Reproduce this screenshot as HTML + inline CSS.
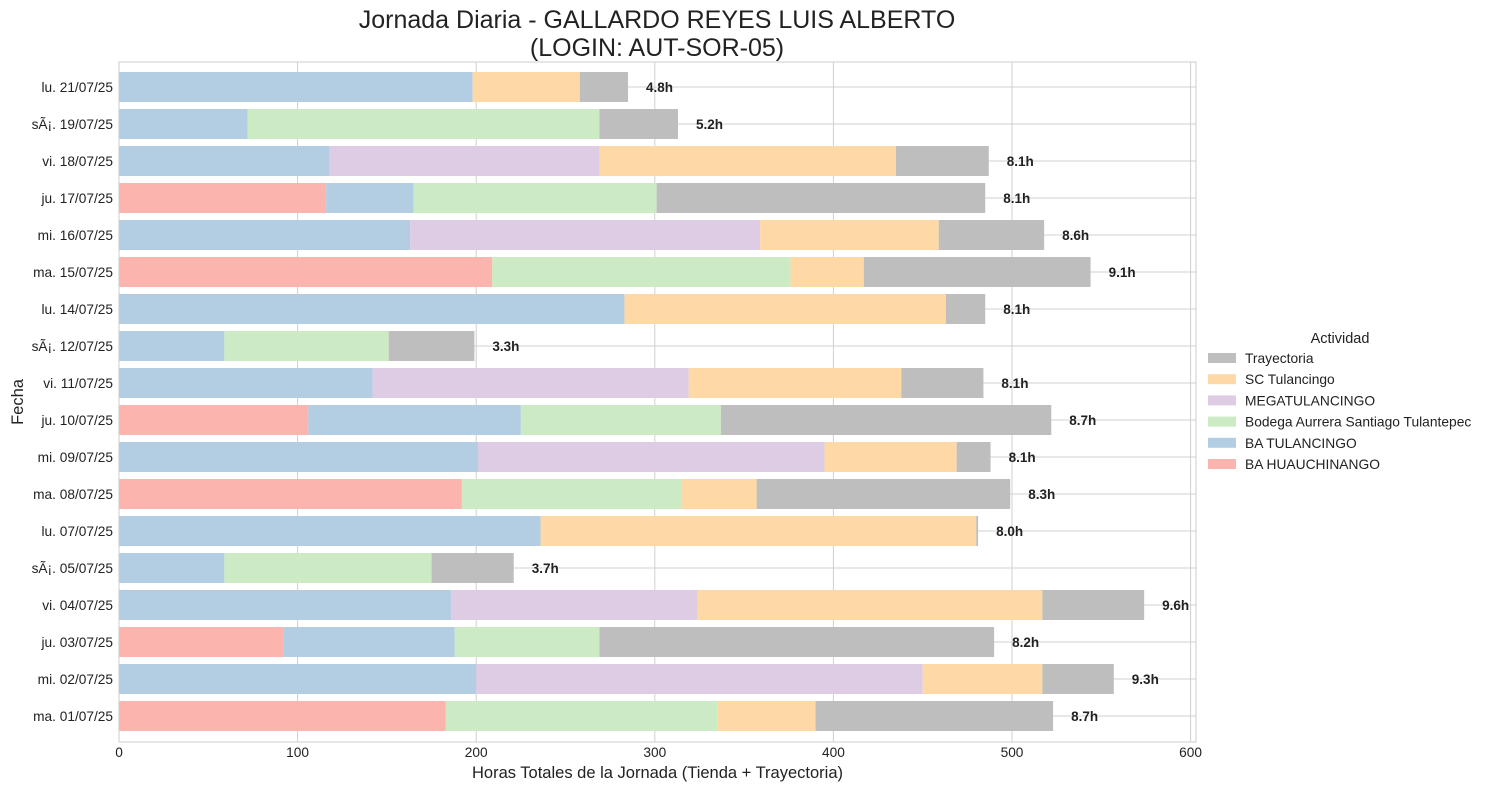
<!DOCTYPE html>
<html><head><meta charset="utf-8"><style>
body{margin:0;background:#fff;font-family:"Liberation Sans",Arial,sans-serif}
svg text{font-family:"Liberation Sans",Arial,sans-serif}
</style></head><body>
<svg id="chart" width="1490" height="790" xmlns="http://www.w3.org/2000/svg">
<text x="657" y="28" font-size="25" text-anchor="middle" fill="#222">Jornada Diaria - GALLARDO REYES LUIS ALBERTO</text>
<text x="657" y="56" font-size="25" text-anchor="middle" fill="#222">(LOGIN: AUT-SOR-05)</text>
<g id="grid"></g><g id="bars"></g><g id="axes"></g><g id="legend"></g>
</svg>
<script>
const categories=["lu. 21/07/25","sÃ¡. 19/07/25","vi. 18/07/25","ju. 17/07/25","mi. 16/07/25","ma. 15/07/25","lu. 14/07/25","sÃ¡. 12/07/25","vi. 11/07/25","ju. 10/07/25","mi. 09/07/25","ma. 08/07/25","lu. 07/07/25","sÃ¡. 05/07/25","vi. 04/07/25","ju. 03/07/25","mi. 02/07/25","ma. 01/07/25"];
const seriesNames=["BA HUAUCHINANGO","BA TULANCINGO","Bodega Aurrera Santiago Tulantepec","MEGATULANCINGO","SC Tulancingo","Trayectoria"];
const colors=["#fbb4ae","#b3cde3","#ccebc5","#decbe4","#fed9a6","#bebebe"];
const huauchinango=[0,0,0,116,0,209,0,0,0,106,0,192,0,0,0,92,0,183];
const tulancingo=[198,72,118,49,163,0,283,59,142,119,201,0,236,59,186,96,200,0];
const bodega=[0,197,0,136,0,167,0,92,0,112,0,123,0,116,0,81,0,152];
const mega=[0,0,151,0,196,0,0,0,177,0,194,0,0,0,138,0,250,0];
const sc=[60,0,166,0,100,41,180,0,119,0,74,42,244,0,193,0,67,55];
const trayectoria=[27,44,52,184,59,127,22,48,46,185,19,142,1,46,57,221,40,133];
const xTicks=[0,100,200,300,400,500,600];
const series=[huauchinango,tulancingo,bodega,mega,sc,trayectoria];
const L=119,R=1196,T=62,B=742;
const xs=v=>L+v*1.786;
const ys=i=>87+i*37;
const NS="http://www.w3.org/2000/svg";
function mk(tag,attrs,parent,txt){const e=document.createElementNS(NS,tag);for(const k in attrs)e.setAttribute(k,attrs[k]);if(txt!==undefined)e.textContent=txt;parent.appendChild(e);return e;}
const grid=document.getElementById('grid'),bars=document.getElementById('bars'),axes=document.getElementById('axes'),legend=document.getElementById('legend');
mk('rect',{x:L,y:T,width:R-L,height:B-T,fill:'#fff'},grid);
xTicks.forEach(t=>{const l=mk('line',{x1:xs(t),x2:xs(t),y1:T,y2:B,stroke:'#d0d0d0','stroke-width':1},grid);


const tx=mk('text',{x:xs(t),y:B+15,'font-size':13.7,'text-anchor':'middle',fill:'#222'},axes,String(t));

});
categories.forEach((c,i)=>{const l=mk('line',{x1:L,x2:R,y1:ys(i),y2:ys(i),stroke:'#d0d0d0','stroke-width':1},grid);


const tx=mk('text',{x:L-6,y:ys(i)+5,'font-size':13.7,'text-anchor':'end',fill:'#222'},axes,c);


let acc=0;
series.forEach((s,k)=>{const v=s[i];if(v>0){const r=mk('rect',{x:xs(acc),y:ys(i)-15,width:xs(acc+v)-xs(acc),height:30,fill:colors[k]},bars);

}acc+=v;});
const lb=mk('text',{x:xs(acc)+18,y:ys(i)+5,'font-size':13.5,'font-weight':'bold',fill:'#222'},bars,(acc/60).toFixed(1)+'h');

});
const fr=mk('rect',{x:L,y:T,width:R-L,height:B-T,fill:'none',stroke:'#cccccc','stroke-width':1},axes);


const xt=mk('text',{x:(L+R)/2,y:778,'font-size':16.5,'text-anchor':'middle',fill:'#222'},axes,'Horas Totales de la Jornada (Tienda + Trayectoria)');


const yt=mk('text',{x:0,y:0,'font-size':16.5,'text-anchor':'middle',fill:'#222',transform:'translate(23,402) rotate(-90)'},axes,'Fecha');


const lt=mk('text',{x:1340,y:343,'font-size':14.5,'text-anchor':'middle',fill:'#222'},legend,'Actividad');


for(let j=0;j<6;j++){const k=5-j;const y=358+j*21.2;
const p=mk('rect',{x:1208,y:y-5,width:28,height:10,fill:colors[k]},legend);


const t=mk('text',{x:1245,y:y+5,'font-size':13.8,fill:'#222'},legend,seriesNames[k]);

}
</script>
</body></html>
